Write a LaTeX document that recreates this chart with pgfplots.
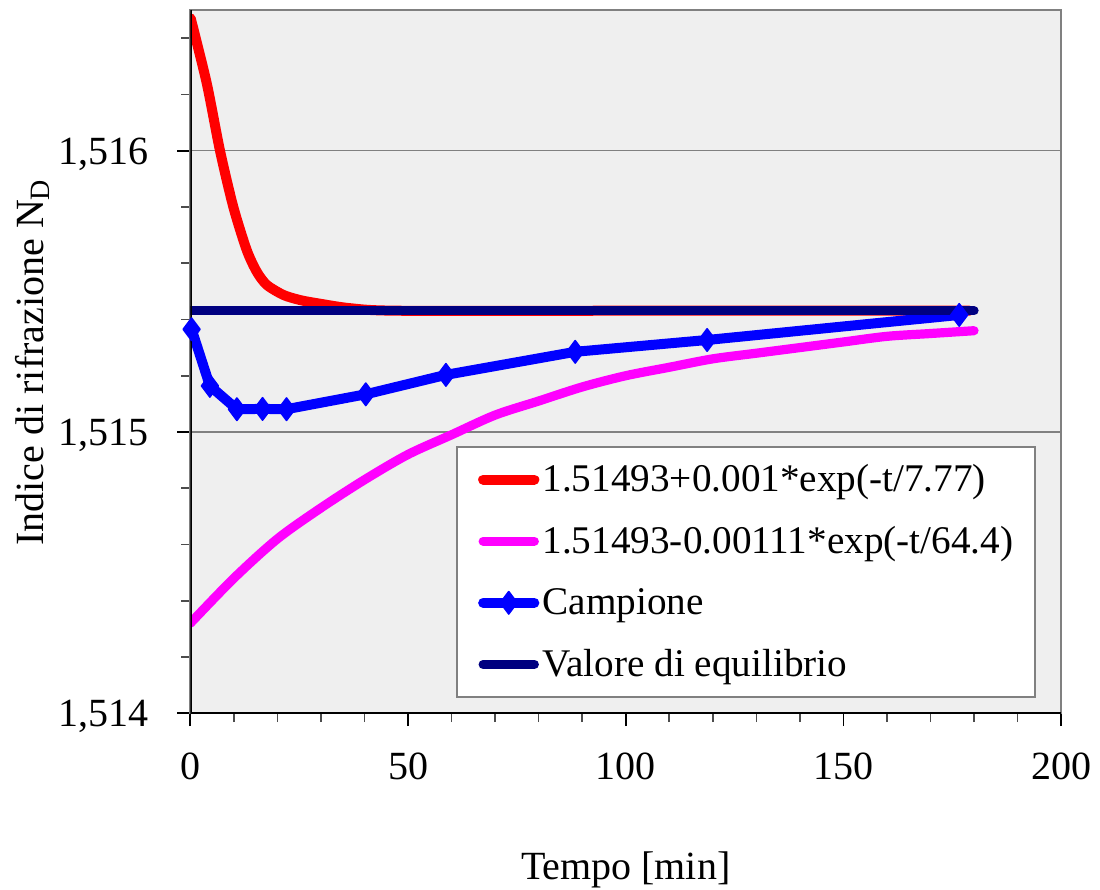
\documentclass[border=0pt]{standalone}
\usepackage{fontspec}
\setmainfont{Liberation Serif}
\usepackage{pgfplots}
\pgfplotsset{compat=1.18}
\definecolor{navyline}{RGB}{0,0,128}
\definecolor{magline}{RGB}{255,0,255}
\definecolor{redline}{RGB}{255,0,0}
\definecolor{blueline}{RGB}{0,0,255}
\definecolor{bgfill}{RGB}{239,239,239}
\definecolor{framegray}{RGB}{128,128,128}
\begin{document}
\fontsize{10}{12}\selectfont
\begin{tikzpicture}
\useasboundingbox (-47.575pt,-43.925pt) rectangle ++(275pt,222.25pt);
\begin{axis}[
  scale only axis, width=217.7pt, height=175.825pt,
  xmin=0, xmax=200, ymin=1.514, ymax=1.5165,
  xtick={0,50,100,150,200},
  minor xtick={10,20,30,40,60,70,80,90,110,120,130,140,160,170,180,190},
  ytick={1.514,1.515,1.516},
  yticklabels={{1,514},{1,515},{1,516}},
  minor ytick={1.5142,1.5144,1.5146,1.5148,1.5152,1.5154,1.5156,1.5158,1.5162,1.5164},
  tick align=outside, xtick pos=bottom, ytick pos=left,
  major tick length=3.2pt, minor tick length=2.2pt,
  every major tick/.style={black, line width=0.45pt},
  every minor tick/.style={black!70, line width=0.4pt},
  ymajorgrids, major grid style={framegray, line width=0.35pt},
  axis line style={framegray, line width=0.5pt},
  axis background/.style={fill=bgfill},
  /pgf/number format/assume math mode=true,
  xticklabel style={anchor=north, inner sep=0pt, yshift=-6.6pt},
  yticklabel style={anchor=base east, inner sep=0pt, xshift=-7.1pt, yshift=-3.4pt},
  xlabel={Tempo [min]},
  ylabel={Indice di rifrazione N\textsubscript{D}},
  xlabel style={at={(axis description cs:0.5,-0.236)}, anchor=base, inner sep=0pt},
  ylabel style={at={(axis description cs:-0.169,0.5)}, anchor=base, inner sep=0pt},
  legend style={at={(0.971,0.0218)}, anchor=south east, draw=framegray, fill=white,
    line width=0.5pt, font=\fontsize{9.8}{11}\selectfont,
    inner xsep=5.4pt, inner ysep=3.5pt, row sep=6.1pt, column sep=0.8pt,
    nodes={inner sep=0pt, text height=7.7pt, text depth=1.6pt}},
  legend cell align=left,
  legend image code/.code={\draw[mark repeat=2, mark phase=2, line cap=round, #1] plot coordinates {(0.6pt,0pt) (7pt,0pt) (13.4pt,0pt)};},
]
\addplot[redline, line width=2.5pt, line join=round, line cap=round, smooth, tension=0.45] coordinates {
 (0.1,1.51647) (3.77,1.51624) (6.82,1.51600) (9.88,1.51580) (12.95,1.515647)
 (15.25,1.51557) (17.55,1.515523) (21.4,1.515487) (25.2,1.515469) (29.0,1.515458)
 (36.7,1.515440) (48,1.515431) (100,1.515431) (179,1.515431)};
\addlegendentry{1.51493+0.001*exp(-t/7.77)}
\addplot[magline, line width=2.3pt, line cap=round, line join=round, smooth] coordinates {
 (0,1.51432) (10,1.51448) (20,1.51462) (30,1.51473) (40,1.51483) (50,1.51492)
 (60,1.51499) (70,1.51506) (80,1.51511) (90,1.51516) (100,1.51520) (110,1.51523)
 (120,1.51526) (130,1.51528) (140,1.51530) (150,1.51532) (160,1.51534) (170,1.51535)
 (180,1.51536)};
\addlegendentry{1.51493-0.00111*exp(-t/64.4)}
\addplot[blueline, line width=2.5pt, line join=round, mark=diamond*, mark size=2.8pt,
  mark options={line width=0.4pt, fill=blueline, draw=blueline}] coordinates {
 (0.3,1.515365) (4.5,1.515164) (10.7,1.515081) (16.6,1.515082) (22.1,1.515081)
 (40.3,1.515134) (58.7,1.515203) (88.4,1.515285) (118.7,1.515327) (176.6,1.515416)};
\addlegendentry{Campione}
\addplot[navyline, line width=2.3pt, line cap=round] coordinates {(0,1.515431) (180,1.515431)};
\addlegendentry{Valore di equilibrio}
\draw[black, line width=0.6pt] (rel axis cs:0,1) -- (rel axis cs:0,0) -- (rel axis cs:1,0);
\end{axis}
\end{tikzpicture}
\end{document}
